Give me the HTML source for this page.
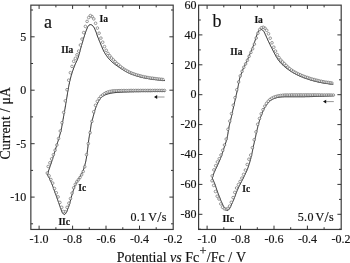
<!DOCTYPE html>
<html><head><meta charset="utf-8"><title>CV</title>
<style>
html,body{margin:0;padding:0;background:#fff;}
svg{display:block;font-family:"Liberation Serif",serif;}
text{stroke:#222;stroke-width:0.18px;}
.ax rect{fill:none;stroke:#3c3c3c;stroke-width:1.2;}
.ax path{stroke:#333;stroke-width:1;fill:none;}
.ln{fill:none;stroke:#1c1c1c;stroke-width:1.0;stroke-linejoin:round;}
.cc circle{fill:#fff;fill-opacity:0.65;stroke:#5a5a5a;stroke-width:0.6;}
.tk{font-size:12px;fill:#111;}
.big{font-size:18px;fill:#111;}
.bd text{font-size:9.5px;font-weight:bold;fill:#111;}
.al{font-size:14px;fill:#111;}
.ar path{stroke:#8a8a8a;stroke-width:0.9;fill:none;}
.ar .hd{fill:#111;stroke:none;}
</style></head><body>
<svg width="350" height="263" viewBox="0 0 350 263">
<rect width="350" height="263" fill="#fff"/>
<polyline class="ln" points="165.0,91.5 164.2,91.5 163.4,91.5 162.7,91.5 161.9,91.5 161.1,91.5 160.3,91.5 159.5,91.5 158.8,91.5 158.0,91.5 157.2,91.5 156.4,91.5 155.7,91.5 154.9,91.5 154.1,91.5 153.3,91.5 152.5,91.5 151.8,91.6 151.0,91.6 150.2,91.6 149.4,91.6 148.6,91.6 147.9,91.6 147.1,91.6 146.3,91.6 145.5,91.6 144.8,91.6 144.0,91.6 143.2,91.6 142.4,91.6 141.6,91.6 140.9,91.6 140.1,91.7 139.3,91.7 138.5,91.7 137.7,91.7 137.0,91.7 136.2,91.7 135.4,91.7 134.6,91.7 133.9,91.8 133.1,91.8 132.3,91.8 131.5,91.8 130.7,91.8 130.0,91.8 129.2,91.9 128.4,91.9 127.6,91.9 126.9,91.9 126.1,92.0 125.3,92.0 124.5,92.0 123.7,92.0 123.0,92.1 122.2,92.1 121.4,92.2 120.6,92.2 119.8,92.3 119.1,92.3 118.3,92.4 117.5,92.4 116.7,92.5 116.0,92.5 115.2,92.6 114.4,92.7 113.6,92.8 112.9,92.9 112.1,93.0 111.3,93.2 110.6,93.3 109.8,93.5 109.0,93.7 108.3,93.8 107.5,94.1 106.8,94.3 106.0,94.6 105.3,94.8 104.6,95.1 103.9,95.5 103.3,95.9 102.6,96.4 102.0,96.9 101.4,97.4 100.9,98.0 100.4,98.5 99.9,99.1 99.5,99.8 99.1,100.4 98.7,101.1 98.3,101.8 97.9,102.5 97.6,103.2 97.3,103.9 96.9,104.6 96.6,105.4 96.3,106.1 96.1,106.8 95.8,107.6 95.5,108.3 95.3,109.0 95.1,109.8 94.8,110.5 94.6,111.3 94.4,112.0 94.2,112.8 94.0,113.5 93.8,114.3 93.6,115.0 93.4,115.8 93.2,116.5 93.0,117.3 92.8,118.0 92.6,118.8 92.4,119.5 92.2,120.3 92.0,121.1 91.8,121.8 91.6,122.6 91.4,123.3 91.3,124.1 91.1,124.8 91.0,125.6 90.9,126.4 90.8,127.1 90.7,127.9 90.6,128.7 90.5,129.5 90.3,130.2 90.2,131.0 90.1,131.8 90.0,132.5 89.8,133.3 89.7,134.1 89.6,134.8 89.4,135.6 89.3,136.4 89.2,137.1 89.0,137.9 88.9,138.7 88.8,139.5 88.7,140.2 88.6,141.0 88.5,141.8 88.4,142.5 88.3,143.3 88.2,144.1 88.1,144.9 88.0,145.6 88.0,146.4 87.9,147.2 87.8,148.0 87.7,148.7 87.6,149.5 87.5,150.3 87.4,151.0 87.3,151.8 87.2,152.6 87.1,153.4 87.0,154.1 86.9,154.9 86.8,155.7 86.6,156.4 86.5,157.2 86.4,158.0 86.3,158.7 86.1,159.5 86.0,160.3 85.8,161.0 85.7,161.8 85.5,162.6 85.3,163.3 85.1,164.1 84.9,164.8 84.7,165.6 84.5,166.3 84.3,167.1 84.1,167.8 83.8,168.6 83.6,169.3 83.3,170.0 83.0,170.7 82.7,171.5 82.4,172.2 82.0,172.9 81.7,173.6 81.4,174.3 81.0,175.0 80.6,175.7 80.2,176.3 79.8,177.0 79.4,177.7 79.0,178.3 78.6,179.0 78.2,179.7 77.9,180.4 77.5,181.0 77.1,181.7 76.7,182.4 76.3,183.1 75.9,183.7 75.6,184.4 75.2,185.1 74.9,185.9 74.7,186.6 74.4,187.3 74.1,188.0 73.9,188.8 73.6,189.5 73.4,190.3 73.1,191.0 72.9,191.8 72.7,192.5 72.5,193.2 72.3,194.0 72.1,194.7 71.8,195.5 71.6,196.2 71.4,197.0 71.2,197.7 71.0,198.5 70.8,199.3 70.6,200.0 70.4,200.8 70.2,201.5 70.0,202.3 69.8,203.0 69.6,203.8 69.4,204.5 69.2,205.3 68.9,206.0 68.7,206.7 68.4,207.5 68.1,208.2 67.8,208.9 67.5,209.6 67.3,210.4 67.0,211.1 66.7,211.9 66.3,212.6 65.9,213.2 65.4,213.8 64.7,214.4 64.1,214.5 63.4,214.0 62.9,213.4 62.4,212.8 62.1,212.2 61.8,211.5 61.5,210.7 61.2,210.0 61.0,209.2 60.7,208.4 60.4,207.7 60.2,207.0 59.9,206.2 59.6,205.5 59.4,204.8 59.1,204.0 58.9,203.3 58.6,202.5 58.3,201.8 58.1,201.1 57.8,200.3 57.6,199.6 57.3,198.9 57.0,198.1 56.8,197.4 56.5,196.7 56.3,195.9 56.0,195.2 55.7,194.5 55.5,193.7 55.2,193.0 54.9,192.3 54.7,191.5 54.4,190.8 54.2,190.1 53.9,189.3 53.6,188.6 53.4,187.9 53.1,187.1 52.8,186.4 52.6,185.7 52.3,185.0 52.0,184.2 51.7,183.5 51.4,182.8 51.1,182.1 50.8,181.4 50.4,180.7 50.1,180.0 49.8,179.3 49.5,178.5 49.1,177.9 48.8,177.2 48.4,176.5 48.0,175.8 47.7,175.1 47.3,174.4 47.3,174.4 47.6,173.6 47.9,172.8 48.2,172.0 48.4,171.1 48.7,170.3 49.0,169.5 49.3,168.7 49.6,167.9 49.8,167.1 50.1,166.2 50.4,165.4 50.7,164.6 51.0,163.8 51.2,163.0 51.5,162.1 51.8,161.3 52.0,160.5 52.3,159.7 52.6,158.9 52.8,158.0 53.1,157.2 53.3,156.4 53.6,155.6 53.9,154.7 54.1,153.9 54.4,153.1 54.6,152.3 54.9,151.4 55.1,150.6 55.4,149.8 55.6,149.0 55.9,148.1 56.1,147.3 56.4,146.5 56.6,145.7 56.9,144.8 57.1,144.0 57.4,143.2 57.6,142.4 57.9,141.5 58.2,140.7 58.4,139.9 58.7,139.1 58.9,138.2 59.1,137.4 59.4,136.6 59.6,135.7 59.8,134.9 60.1,134.1 60.3,133.2 60.5,132.4 60.7,131.6 60.9,130.7 61.1,129.9 61.3,129.0 61.5,128.2 61.7,127.4 61.8,126.5 62.0,125.7 62.1,124.8 62.3,124.0 62.4,123.1 62.6,122.3 62.7,121.4 62.9,120.6 63.0,119.7 63.2,118.9 63.3,118.0 63.5,117.2 63.6,116.3 63.8,115.5 63.9,114.6 64.1,113.8 64.2,112.9 64.4,112.1 64.5,111.2 64.7,110.4 64.8,109.5 65.0,108.7 65.1,107.8 65.3,107.0 65.4,106.1 65.6,105.3 65.7,104.4 65.8,103.5 66.0,102.7 66.1,101.8 66.3,101.0 66.4,100.1 66.5,99.3 66.7,98.4 66.8,97.6 67.0,96.7 67.1,95.9 67.2,95.0 67.4,94.2 67.5,93.3 67.6,92.5 67.8,91.6 67.9,90.8 68.1,89.9 68.2,89.1 68.4,88.2 68.5,87.4 68.7,86.5 68.8,85.7 69.0,84.8 69.2,84.0 69.4,83.1 69.5,82.3 69.7,81.4 69.9,80.6 70.1,79.8 70.3,78.9 70.5,78.1 70.8,77.2 71.0,76.4 71.2,75.6 71.5,74.8 71.7,73.9 72.0,73.1 72.2,72.3 72.5,71.5 72.8,70.6 73.1,69.8 73.4,69.0 73.6,68.2 74.0,67.4 74.3,66.6 74.6,65.8 74.9,65.0 75.2,64.2 75.6,63.4 76.0,62.6 76.3,61.8 76.7,61.0 77.1,60.3 77.4,59.5 77.7,58.7 78.0,57.9 78.3,57.1 78.5,56.2 78.8,55.4 79.0,54.6 79.3,53.7 79.5,52.9 79.7,52.1 79.9,51.2 80.1,50.4 80.4,49.6 80.6,48.7 80.8,47.9 81.1,47.1 81.3,46.2 81.5,45.4 81.8,44.6 82.0,43.7 82.3,42.9 82.5,42.1 82.8,41.3 83.0,40.4 83.2,39.6 83.5,38.8 83.7,38.0 84.0,37.1 84.3,36.3 84.5,35.5 84.8,34.7 85.1,33.8 85.3,33.0 85.6,32.2 85.9,31.4 86.2,30.6 86.5,29.8 86.8,29.0 87.2,28.2 87.5,27.4 87.9,26.6 88.4,25.9 89.0,25.2 89.7,24.8 90.5,24.6 91.4,24.8 92.2,25.2 92.8,25.8 93.3,26.5 93.8,27.2 94.3,27.9 94.6,28.7 95.0,29.5 95.3,30.3 95.7,31.1 96.0,31.9 96.3,32.7 96.5,33.5 96.8,34.3 97.1,35.1 97.4,36.0 97.7,36.8 98.0,37.6 98.4,38.4 98.7,39.2 99.0,40.0 99.3,40.8 99.7,41.6 100.0,42.4 100.3,43.2 100.6,44.0 101.0,44.8 101.3,45.6 101.6,46.4 102.0,47.2 102.3,48.0 102.6,48.8 103.0,49.5 103.3,50.3 103.7,51.1 104.1,51.9 104.6,52.6 105.0,53.4 105.4,54.1 105.9,54.8 106.4,55.5 106.9,56.2 107.4,56.9 107.9,57.6 108.5,58.3 109.0,59.0 109.6,59.6 110.2,60.2 110.8,60.8 111.4,61.4 112.1,62.0 112.7,62.6 113.4,63.1 114.1,63.7 114.8,64.2 115.4,64.7 116.1,65.2 116.8,65.7 117.6,66.2 118.3,66.7 119.0,67.2 119.7,67.7 120.4,68.1 121.2,68.6 121.9,69.1 122.6,69.5 123.4,70.0 124.1,70.4 124.9,70.9 125.6,71.3 126.4,71.7 127.1,72.1 127.9,72.5 128.7,72.9 129.5,73.2 130.2,73.6 131.0,73.9 131.8,74.2 132.7,74.5 133.5,74.8 134.3,75.1 135.1,75.4 135.9,75.7 136.7,75.9 137.6,76.2 138.4,76.4 139.2,76.6 140.1,76.9 140.9,77.1 141.7,77.3 142.6,77.5 143.4,77.7 144.3,77.9 145.1,78.0 146.0,78.2 146.8,78.3 147.7,78.5 148.5,78.6 149.4,78.8 150.2,78.9 151.1,79.1 151.9,79.2 152.8,79.3 153.6,79.4 154.5,79.5 155.4,79.6 156.2,79.7 157.1,79.8 157.9,79.9 158.8,80.0 159.6,80.1 160.5,80.2 161.4,80.3 162.2,80.4 163.1,80.5 163.9,80.5 164.8,80.6"/><g class="cc"><circle cx="164.5" cy="90.5" r="1.32"/><circle cx="162.8" cy="90.5" r="1.32"/><circle cx="161.1" cy="90.5" r="1.32"/><circle cx="159.3" cy="90.5" r="1.32"/><circle cx="157.6" cy="90.5" r="1.32"/><circle cx="155.9" cy="90.5" r="1.32"/><circle cx="154.2" cy="90.5" r="1.32"/><circle cx="152.5" cy="90.5" r="1.32"/><circle cx="150.7" cy="90.5" r="1.32"/><circle cx="149.0" cy="90.5" r="1.32"/><circle cx="147.3" cy="90.5" r="1.32"/><circle cx="145.6" cy="90.5" r="1.32"/><circle cx="143.9" cy="90.5" r="1.32"/><circle cx="142.1" cy="90.5" r="1.32"/><circle cx="140.4" cy="90.5" r="1.32"/><circle cx="138.7" cy="90.5" r="1.32"/><circle cx="137.0" cy="90.5" r="1.32"/><circle cx="135.3" cy="90.5" r="1.32"/><circle cx="133.5" cy="90.5" r="1.32"/><circle cx="131.8" cy="90.5" r="1.32"/><circle cx="130.1" cy="90.5" r="1.32"/><circle cx="128.4" cy="90.6" r="1.32"/><circle cx="126.7" cy="90.6" r="1.32"/><circle cx="124.9" cy="90.6" r="1.32"/><circle cx="123.2" cy="90.6" r="1.32"/><circle cx="121.5" cy="90.6" r="1.32"/><circle cx="119.8" cy="90.7" r="1.32"/><circle cx="118.1" cy="90.7" r="1.32"/><circle cx="116.3" cy="90.8" r="1.32"/><circle cx="114.6" cy="90.8" r="1.32"/><circle cx="112.9" cy="90.9" r="1.32"/><circle cx="111.2" cy="91.2" r="1.32"/><circle cx="109.5" cy="91.6" r="1.32"/><circle cx="107.7" cy="92.1" r="1.32"/><circle cx="106.0" cy="92.8" r="1.32"/><circle cx="104.3" cy="93.8" r="1.32"/><circle cx="102.6" cy="95.1" r="1.32"/><circle cx="100.9" cy="96.4" r="1.32"/><circle cx="99.1" cy="98.6" r="1.32"/><circle cx="97.3" cy="101.3" r="1.32"/><circle cx="95.5" cy="105.3" r="1.32"/><circle cx="93.7" cy="111.8" r="1.32"/><circle cx="91.9" cy="121.4" r="1.32"/><circle cx="90.1" cy="132.7" r="1.32"/><circle cx="88.3" cy="143.6" r="1.32"/><circle cx="86.5" cy="154.7" r="1.32"/><circle cx="84.7" cy="166.8" r="1.32"/><circle cx="83.2" cy="171.5" r="1.32"/><circle cx="81.6" cy="174.8" r="1.32"/><circle cx="80.0" cy="177.5" r="1.32"/><circle cx="78.4" cy="179.7" r="1.32"/><circle cx="76.8" cy="181.8" r="1.32"/><circle cx="75.3" cy="184.4" r="1.32"/><circle cx="73.7" cy="187.8" r="1.32"/><circle cx="72.1" cy="193.1" r="1.32"/><circle cx="70.5" cy="198.6" r="1.32"/><circle cx="68.9" cy="203.2" r="1.32"/><circle cx="67.1" cy="207.3" r="1.32"/><circle cx="65.3" cy="211.7" r="1.32"/><circle cx="63.5" cy="211.6" r="1.32"/><circle cx="61.7" cy="207.3" r="1.32"/><circle cx="59.9" cy="202.4" r="1.32"/><circle cx="58.1" cy="196.9" r="1.32"/><circle cx="56.3" cy="192.8" r="1.32"/><circle cx="54.5" cy="188.5" r="1.32"/><circle cx="52.7" cy="183.1" r="1.32"/><circle cx="50.9" cy="179.5" r="1.32"/><circle cx="49.1" cy="175.8" r="1.32"/><circle cx="47.3" cy="173.0" r="1.32"/><circle cx="162.9" cy="79.5" r="1.32"/><circle cx="161.1" cy="79.3" r="1.32"/><circle cx="159.3" cy="79.1" r="1.32"/><circle cx="157.6" cy="78.9" r="1.32"/><circle cx="155.8" cy="78.7" r="1.32"/><circle cx="154.0" cy="78.5" r="1.32"/><circle cx="152.3" cy="78.2" r="1.32"/><circle cx="150.5" cy="78.0" r="1.32"/><circle cx="148.7" cy="77.7" r="1.32"/><circle cx="146.9" cy="77.4" r="1.32"/><circle cx="145.2" cy="77.0" r="1.32"/><circle cx="143.4" cy="76.7" r="1.32"/><circle cx="141.6" cy="76.3" r="1.32"/><circle cx="139.9" cy="75.8" r="1.32"/><circle cx="138.1" cy="75.3" r="1.32"/><circle cx="136.3" cy="74.8" r="1.32"/><circle cx="134.5" cy="74.2" r="1.32"/><circle cx="132.8" cy="73.6" r="1.32"/><circle cx="131.0" cy="72.9" r="1.32"/><circle cx="129.2" cy="72.1" r="1.32"/><circle cx="127.5" cy="71.2" r="1.32"/><circle cx="125.7" cy="70.2" r="1.32"/><circle cx="123.9" cy="69.1" r="1.32"/><circle cx="122.2" cy="67.9" r="1.32"/><circle cx="120.4" cy="66.5" r="1.32"/><circle cx="118.6" cy="64.8" r="1.32"/><circle cx="116.8" cy="63.4" r="1.32"/><circle cx="115.1" cy="61.7" r="1.32"/><circle cx="113.3" cy="59.9" r="1.32"/><circle cx="111.5" cy="58.0" r="1.32"/><circle cx="109.8" cy="55.8" r="1.32"/><circle cx="108.0" cy="53.4" r="1.32"/><circle cx="106.2" cy="50.3" r="1.32"/><circle cx="104.5" cy="46.6" r="1.32"/><circle cx="102.7" cy="42.2" r="1.32"/><circle cx="100.9" cy="38.1" r="1.32"/><circle cx="99.1" cy="33.2" r="1.32"/><circle cx="97.4" cy="28.1" r="1.32"/><circle cx="95.6" cy="23.3" r="1.32"/><circle cx="93.8" cy="18.9" r="1.32"/><circle cx="92.1" cy="16.6" r="1.32"/><circle cx="90.4" cy="15.6" r="1.32"/><circle cx="88.7" cy="17.6" r="1.32"/><circle cx="87.1" cy="21.4" r="1.32"/><circle cx="85.4" cy="26.4" r="1.32"/><circle cx="83.7" cy="32.6" r="1.32"/><circle cx="82.0" cy="39.1" r="1.32"/><circle cx="80.4" cy="45.0" r="1.32"/><circle cx="78.7" cy="51.1" r="1.32"/><circle cx="77.0" cy="54.8" r="1.32"/><circle cx="75.4" cy="58.3" r="1.32"/><circle cx="73.7" cy="61.3" r="1.32"/><circle cx="72.0" cy="66.4" r="1.32"/><circle cx="70.4" cy="72.7" r="1.32"/><circle cx="68.7" cy="80.2" r="1.32"/><circle cx="67.0" cy="89.7" r="1.32"/><circle cx="65.3" cy="100.9" r="1.32"/><circle cx="63.7" cy="112.4" r="1.32"/><circle cx="62.0" cy="122.7" r="1.32"/><circle cx="60.3" cy="131.0" r="1.32"/><circle cx="58.6" cy="138.5" r="1.32"/><circle cx="56.9" cy="145.0" r="1.32"/><circle cx="55.1" cy="150.2" r="1.32"/><circle cx="53.4" cy="154.7" r="1.32"/><circle cx="51.6" cy="158.9" r="1.32"/><circle cx="49.9" cy="162.8" r="1.32"/><circle cx="48.2" cy="166.5" r="1.32"/></g>
<polyline class="ln" points="333.5,95.7 332.8,95.7 332.0,95.8 331.3,95.8 330.6,95.9 329.8,95.9 329.1,95.9 328.4,96.0 327.6,96.0 326.9,96.0 326.2,96.1 325.4,96.1 324.7,96.1 324.0,96.2 323.2,96.2 322.5,96.2 321.8,96.2 321.0,96.3 320.3,96.3 319.6,96.3 318.8,96.3 318.1,96.4 317.4,96.4 316.6,96.4 315.9,96.4 315.2,96.5 314.4,96.5 313.7,96.5 313.0,96.5 312.2,96.6 311.5,96.6 310.8,96.6 310.0,96.6 309.3,96.7 308.6,96.7 307.8,96.7 307.1,96.7 306.4,96.7 305.6,96.7 304.9,96.8 304.2,96.8 303.4,96.8 302.7,96.8 302.0,96.8 301.2,96.8 300.5,96.8 299.8,96.8 299.0,96.8 298.3,96.8 297.6,96.8 296.8,96.8 296.1,96.8 295.4,96.8 294.6,96.8 293.9,96.8 293.2,96.8 292.4,96.8 291.7,96.8 291.0,96.8 290.2,96.8 289.5,96.8 288.8,96.8 288.0,96.8 287.3,96.8 286.6,96.8 285.8,96.8 285.1,96.8 284.4,96.8 283.6,96.9 282.9,96.9 282.2,96.9 281.4,97.0 280.7,97.0 280.0,97.1 279.2,97.2 278.5,97.3 277.8,97.4 277.1,97.6 276.4,97.8 275.7,98.0 275.0,98.2 274.3,98.5 273.6,98.7 272.9,99.1 272.3,99.4 271.6,99.8 271.0,100.2 270.4,100.6 269.9,101.1 269.3,101.6 268.8,102.1 268.3,102.7 267.8,103.2 267.3,103.8 266.9,104.3 266.4,104.9 266.0,105.5 265.6,106.1 265.2,106.7 264.8,107.3 264.4,108.0 264.1,108.6 263.8,109.3 263.5,110.0 263.2,110.6 262.9,111.3 262.6,112.0 262.3,112.7 262.1,113.4 261.8,114.0 261.5,114.7 261.3,115.4 261.0,116.1 260.8,116.8 260.5,117.5 260.3,118.2 260.1,118.9 259.8,119.6 259.6,120.3 259.4,121.0 259.2,121.7 259.0,122.4 258.8,123.1 258.6,123.8 258.4,124.5 258.2,125.2 258.0,125.9 257.8,126.6 257.7,127.3 257.5,128.1 257.3,128.8 257.2,129.5 257.0,130.2 256.8,130.9 256.7,131.6 256.5,132.4 256.4,133.1 256.2,133.8 256.0,134.5 255.9,135.2 255.7,135.9 255.6,136.7 255.4,137.4 255.2,138.1 255.1,138.8 254.9,139.5 254.7,140.2 254.6,140.9 254.4,141.7 254.3,142.4 254.1,143.1 254.0,143.8 253.8,144.5 253.6,145.2 253.5,146.0 253.3,146.7 253.2,147.4 253.0,148.1 252.9,148.8 252.7,149.6 252.6,150.3 252.5,151.0 252.3,151.7 252.2,152.4 252.0,153.2 251.9,153.9 251.7,154.6 251.6,155.3 251.4,156.0 251.2,156.7 251.0,157.4 250.9,158.1 250.7,158.9 250.5,159.6 250.3,160.3 250.1,161.0 249.9,161.7 249.7,162.4 249.5,163.1 249.2,163.8 249.0,164.5 248.8,165.2 248.6,165.9 248.4,166.6 248.1,167.3 247.9,168.0 247.6,168.7 247.3,169.3 247.0,170.0 246.8,170.7 246.5,171.4 246.2,172.0 245.9,172.7 245.5,173.4 245.2,174.0 244.9,174.7 244.6,175.4 244.3,176.0 244.0,176.7 243.7,177.3 243.3,178.0 243.0,178.7 242.7,179.3 242.3,180.0 242.0,180.6 241.7,181.3 241.3,181.9 241.0,182.6 240.7,183.2 240.3,183.9 240.0,184.5 239.7,185.2 239.3,185.9 239.0,186.5 238.7,187.2 238.4,187.8 238.1,188.5 237.8,189.2 237.5,189.8 237.2,190.5 236.9,191.2 236.7,191.9 236.4,192.6 236.1,193.2 235.9,193.9 235.6,194.6 235.4,195.3 235.1,196.0 234.9,196.7 234.6,197.4 234.3,198.1 234.1,198.7 233.8,199.4 233.5,200.1 233.2,200.8 232.9,201.4 232.6,202.1 232.3,202.8 232.0,203.5 231.7,204.1 231.4,204.8 231.1,205.5 230.8,206.1 230.5,206.8 230.2,207.5 229.8,208.1 229.5,208.7 229.0,209.3 228.4,210.0 227.8,210.4 227.2,210.3 226.6,210.0 225.9,209.5 225.4,209.0 224.9,208.5 224.5,207.9 224.1,207.2 223.7,206.6 223.4,205.9 223.0,205.3 222.7,204.6 222.4,204.0 222.1,203.3 221.8,202.6 221.5,201.9 221.2,201.3 220.9,200.6 220.7,199.9 220.4,199.2 220.1,198.5 219.9,197.8 219.6,197.2 219.3,196.5 219.0,195.8 218.8,195.1 218.5,194.4 218.2,193.7 218.0,193.1 217.7,192.4 217.5,191.7 217.2,191.0 217.0,190.3 216.7,189.6 216.5,188.9 216.3,188.2 216.0,187.5 215.8,186.8 215.6,186.1 215.3,185.4 215.1,184.7 214.8,184.0 214.6,183.4 214.3,182.7 214.0,182.0 213.7,181.3 213.5,180.7 213.1,180.0 212.8,179.3 212.5,178.7 212.2,178.0 212.2,178.0 212.5,177.2 212.7,176.4 213.0,175.6 213.3,174.8 213.6,174.0 213.9,173.2 214.2,172.4 214.6,171.6 214.9,170.8 215.3,170.0 215.6,169.3 216.0,168.5 216.3,167.7 216.7,167.0 217.1,166.2 217.4,165.4 217.8,164.6 218.1,163.9 218.5,163.1 218.8,162.3 219.2,161.5 219.5,160.7 219.8,159.9 220.2,159.1 220.5,158.4 220.8,157.6 221.1,156.8 221.4,156.0 221.7,155.2 221.9,154.4 222.2,153.6 222.5,152.7 222.8,151.9 223.0,151.1 223.3,150.3 223.6,149.5 223.8,148.7 224.1,147.9 224.3,147.1 224.6,146.2 224.9,145.4 225.1,144.6 225.4,143.8 225.7,143.0 225.9,142.2 226.2,141.4 226.4,140.5 226.6,139.7 226.8,138.9 227.1,138.1 227.2,137.2 227.4,136.4 227.6,135.6 227.7,134.7 227.9,133.9 228.0,133.1 228.1,132.2 228.3,131.4 228.4,130.5 228.5,129.7 228.7,128.8 228.8,128.0 229.0,127.2 229.1,126.3 229.3,125.5 229.5,124.7 229.7,123.8 229.9,123.0 230.1,122.2 230.3,121.3 230.5,120.5 230.7,119.7 230.9,118.8 231.1,118.0 231.3,117.2 231.5,116.4 231.7,115.5 231.9,114.7 232.0,113.9 232.2,113.0 232.4,112.2 232.6,111.4 232.7,110.5 232.9,109.7 233.1,108.9 233.3,108.0 233.5,107.2 233.6,106.3 233.8,105.5 234.0,104.7 234.2,103.9 234.4,103.0 234.6,102.2 234.8,101.4 235.0,100.5 235.2,99.7 235.4,98.9 235.6,98.0 235.8,97.2 236.0,96.4 236.1,95.5 236.3,94.7 236.5,93.9 236.7,93.1 236.9,92.2 237.1,91.4 237.3,90.6 237.4,89.7 237.6,88.9 237.8,88.0 238.0,87.2 238.1,86.4 238.3,85.5 238.4,84.7 238.6,83.8 238.7,83.0 238.9,82.2 239.0,81.3 239.2,80.5 239.4,79.7 239.6,78.8 239.8,78.0 240.1,77.2 240.3,76.4 240.6,75.6 240.9,74.8 241.2,74.0 241.5,73.2 241.8,72.4 242.1,71.6 242.4,70.8 242.7,70.0 243.0,69.2 243.4,68.4 243.7,67.7 244.1,66.9 244.5,66.1 244.9,65.3 245.2,64.6 245.6,63.8 246.0,63.0 246.3,62.3 246.7,61.5 247.0,60.7 247.4,59.9 247.7,59.1 248.1,58.4 248.4,57.6 248.7,56.8 249.1,56.0 249.4,55.2 249.7,54.4 250.1,53.7 250.4,52.9 250.7,52.1 251.1,51.3 251.4,50.5 251.7,49.7 252.1,48.9 252.4,48.2 252.7,47.4 253.0,46.6 253.3,45.8 253.6,45.0 253.9,44.2 254.2,43.4 254.4,42.6 254.7,41.7 255.0,40.9 255.2,40.1 255.5,39.3 255.8,38.5 256.0,37.7 256.3,36.9 256.5,36.0 256.8,35.2 257.1,34.4 257.4,33.6 257.7,32.8 258.1,32.0 258.5,31.3 259.0,30.6 259.6,30.0 260.3,29.5 261.1,29.3 261.9,29.6 262.6,30.1 263.2,30.7 263.8,31.4 264.2,32.1 264.6,32.9 265.0,33.7 265.3,34.5 265.7,35.2 266.0,36.0 266.4,36.8 266.7,37.6 267.1,38.3 267.4,39.1 267.8,39.9 268.1,40.7 268.5,41.5 268.9,42.2 269.2,43.0 269.6,43.8 270.0,44.5 270.3,45.3 270.7,46.1 271.1,46.8 271.5,47.6 271.9,48.3 272.3,49.1 272.6,49.9 273.0,50.6 273.4,51.4 273.8,52.1 274.2,52.9 274.6,53.7 275.0,54.4 275.4,55.2 275.8,55.9 276.2,56.7 276.7,57.4 277.1,58.1 277.6,58.8 278.0,59.6 278.5,60.2 279.0,60.9 279.6,61.6 280.1,62.3 280.7,62.9 281.3,63.5 281.9,64.1 282.4,64.7 283.1,65.3 283.7,65.9 284.4,66.5 285.0,67.0 285.7,67.5 286.3,68.1 287.0,68.6 287.7,69.1 288.4,69.6 289.1,70.1 289.8,70.6 290.5,71.1 291.2,71.5 291.9,72.0 292.7,72.4 293.4,72.9 294.1,73.3 294.9,73.7 295.6,74.1 296.4,74.5 297.2,74.9 297.9,75.2 298.7,75.6 299.5,76.0 300.3,76.3 301.1,76.6 301.8,76.9 302.6,77.2 303.4,77.6 304.2,77.9 305.0,78.2 305.8,78.4 306.6,78.7 307.5,79.0 308.3,79.3 309.1,79.5 309.9,79.8 310.7,80.1 311.5,80.3 312.3,80.5 313.2,80.8 314.0,81.0 314.8,81.2 315.6,81.4 316.5,81.6 317.3,81.8 318.1,82.0 319.0,82.2 319.8,82.4 320.6,82.5 321.5,82.7 322.3,82.8 323.1,83.0 324.0,83.1 324.8,83.3 325.7,83.4 326.5,83.5 327.4,83.6 328.2,83.7 329.0,83.9 329.9,84.0 330.7,84.1 331.6,84.1 332.4,84.2 333.3,84.3"/><g class="cc"><circle cx="333.4" cy="95.1" r="1.32"/><circle cx="331.6" cy="95.1" r="1.32"/><circle cx="329.9" cy="95.0" r="1.32"/><circle cx="328.1" cy="95.0" r="1.32"/><circle cx="326.4" cy="95.0" r="1.32"/><circle cx="324.6" cy="95.0" r="1.32"/><circle cx="322.8" cy="95.0" r="1.32"/><circle cx="321.1" cy="95.0" r="1.32"/><circle cx="319.3" cy="94.9" r="1.32"/><circle cx="317.6" cy="94.9" r="1.32"/><circle cx="315.8" cy="94.9" r="1.32"/><circle cx="314.0" cy="94.9" r="1.32"/><circle cx="312.3" cy="94.9" r="1.32"/><circle cx="310.5" cy="94.9" r="1.32"/><circle cx="308.8" cy="94.9" r="1.32"/><circle cx="307.0" cy="94.9" r="1.32"/><circle cx="305.2" cy="94.9" r="1.32"/><circle cx="303.5" cy="94.9" r="1.32"/><circle cx="301.7" cy="94.9" r="1.32"/><circle cx="300.0" cy="94.9" r="1.32"/><circle cx="298.2" cy="94.9" r="1.32"/><circle cx="296.4" cy="94.9" r="1.32"/><circle cx="294.7" cy="94.9" r="1.32"/><circle cx="292.9" cy="94.9" r="1.32"/><circle cx="291.2" cy="94.9" r="1.32"/><circle cx="289.4" cy="95.0" r="1.32"/><circle cx="287.6" cy="95.0" r="1.32"/><circle cx="285.9" cy="95.0" r="1.32"/><circle cx="284.1" cy="95.1" r="1.32"/><circle cx="282.4" cy="95.3" r="1.32"/><circle cx="280.6" cy="95.5" r="1.32"/><circle cx="278.8" cy="95.8" r="1.32"/><circle cx="277.1" cy="96.2" r="1.32"/><circle cx="275.3" cy="96.7" r="1.32"/><circle cx="273.6" cy="97.4" r="1.32"/><circle cx="271.8" cy="98.3" r="1.32"/><circle cx="270.0" cy="99.5" r="1.32"/><circle cx="268.3" cy="101.2" r="1.32"/><circle cx="266.5" cy="103.4" r="1.32"/><circle cx="264.8" cy="106.2" r="1.32"/><circle cx="263.0" cy="109.7" r="1.32"/><circle cx="261.2" cy="113.8" r="1.32"/><circle cx="259.5" cy="118.5" r="1.32"/><circle cx="257.7" cy="124.3" r="1.32"/><circle cx="256.0" cy="131.9" r="1.32"/><circle cx="254.2" cy="139.8" r="1.32"/><circle cx="252.4" cy="147.7" r="1.32"/><circle cx="250.7" cy="155.1" r="1.32"/><circle cx="248.9" cy="159.2" r="1.32"/><circle cx="247.2" cy="164.5" r="1.32"/><circle cx="245.4" cy="170.1" r="1.32"/><circle cx="243.6" cy="174.4" r="1.32"/><circle cx="241.9" cy="178.1" r="1.32"/><circle cx="240.1" cy="181.5" r="1.32"/><circle cx="238.4" cy="184.6" r="1.32"/><circle cx="236.6" cy="188.0" r="1.32"/><circle cx="234.8" cy="192.4" r="1.32"/><circle cx="233.1" cy="197.6" r="1.32"/><circle cx="231.3" cy="202.3" r="1.32"/><circle cx="229.6" cy="206.1" r="1.32"/><circle cx="227.8" cy="208.6" r="1.32"/><circle cx="226.0" cy="209.2" r="1.32"/><circle cx="224.3" cy="208.7" r="1.32"/><circle cx="222.5" cy="207.2" r="1.32"/><circle cx="220.8" cy="203.9" r="1.32"/><circle cx="219.0" cy="199.0" r="1.32"/><circle cx="217.2" cy="196.2" r="1.32"/><circle cx="215.5" cy="191.5" r="1.32"/><circle cx="213.7" cy="185.4" r="1.32"/><circle cx="212.0" cy="180.8" r="1.32"/><circle cx="331.8" cy="83.0" r="1.32"/><circle cx="330.1" cy="82.8" r="1.32"/><circle cx="328.3" cy="82.5" r="1.32"/><circle cx="326.6" cy="82.3" r="1.32"/><circle cx="324.8" cy="82.0" r="1.32"/><circle cx="323.0" cy="81.7" r="1.32"/><circle cx="321.3" cy="81.3" r="1.32"/><circle cx="319.5" cy="81.0" r="1.32"/><circle cx="317.8" cy="80.5" r="1.32"/><circle cx="316.0" cy="80.1" r="1.32"/><circle cx="314.2" cy="79.6" r="1.32"/><circle cx="312.5" cy="79.2" r="1.32"/><circle cx="310.7" cy="78.7" r="1.32"/><circle cx="309.0" cy="78.1" r="1.32"/><circle cx="307.2" cy="77.5" r="1.32"/><circle cx="305.4" cy="76.9" r="1.32"/><circle cx="303.7" cy="76.3" r="1.32"/><circle cx="301.9" cy="75.6" r="1.32"/><circle cx="300.2" cy="74.8" r="1.32"/><circle cx="298.4" cy="74.0" r="1.32"/><circle cx="296.6" cy="73.1" r="1.32"/><circle cx="294.9" cy="72.2" r="1.32"/><circle cx="293.1" cy="71.2" r="1.32"/><circle cx="291.4" cy="70.0" r="1.32"/><circle cx="289.6" cy="68.7" r="1.32"/><circle cx="287.8" cy="67.0" r="1.32"/><circle cx="286.1" cy="65.4" r="1.32"/><circle cx="284.3" cy="63.7" r="1.32"/><circle cx="282.6" cy="62.0" r="1.32"/><circle cx="280.8" cy="60.0" r="1.32"/><circle cx="279.0" cy="57.6" r="1.32"/><circle cx="277.3" cy="54.7" r="1.32"/><circle cx="275.5" cy="51.1" r="1.32"/><circle cx="273.8" cy="47.2" r="1.32"/><circle cx="272.0" cy="42.8" r="1.32"/><circle cx="270.2" cy="38.2" r="1.32"/><circle cx="268.5" cy="33.8" r="1.32"/><circle cx="266.7" cy="30.3" r="1.32"/><circle cx="265.0" cy="28.2" r="1.32"/><circle cx="263.2" cy="27.3" r="1.32"/><circle cx="261.4" cy="27.8" r="1.32"/><circle cx="259.7" cy="29.6" r="1.32"/><circle cx="257.9" cy="33.2" r="1.32"/><circle cx="256.2" cy="38.0" r="1.32"/><circle cx="254.4" cy="44.1" r="1.32"/><circle cx="252.6" cy="48.8" r="1.32"/><circle cx="250.9" cy="52.4" r="1.32"/><circle cx="249.1" cy="56.3" r="1.32"/><circle cx="247.4" cy="60.3" r="1.32"/><circle cx="245.6" cy="63.9" r="1.32"/><circle cx="243.8" cy="67.3" r="1.32"/><circle cx="242.1" cy="71.3" r="1.32"/><circle cx="240.3" cy="75.9" r="1.32"/><circle cx="238.6" cy="82.0" r="1.32"/><circle cx="236.8" cy="89.8" r="1.32"/><circle cx="235.0" cy="97.7" r="1.32"/><circle cx="233.3" cy="105.2" r="1.32"/><circle cx="231.5" cy="113.6" r="1.32"/><circle cx="229.8" cy="121.1" r="1.32"/><circle cx="228.0" cy="129.3" r="1.32"/><circle cx="226.2" cy="139.1" r="1.32"/><circle cx="224.5" cy="145.0" r="1.32"/><circle cx="222.7" cy="150.3" r="1.32"/><circle cx="221.0" cy="155.0" r="1.32"/><circle cx="219.2" cy="158.8" r="1.32"/><circle cx="217.4" cy="161.9" r="1.32"/><circle cx="215.7" cy="165.7" r="1.32"/><circle cx="213.9" cy="169.9" r="1.32"/><circle cx="212.2" cy="175.9" r="1.32"/></g>
<g class="ax"><rect x="30.85" y="5.15" width="142.35" height="224.29999999999998"/><rect x="198.6" y="5.15" width="142.6" height="224.29999999999998"/><path d="M39.1 229.45v-3.8M39.1 5.15v3.8"/><path d="M72.6 229.45v-3.8M72.6 5.15v3.8"/><path d="M106.0 229.45v-3.8M106.0 5.15v3.8"/><path d="M139.5 229.45v-3.8M139.5 5.15v3.8"/><path d="M55.9 229.45v-2.2M55.9 5.15v2.2"/><path d="M89.3 229.45v-2.2M89.3 5.15v2.2"/><path d="M122.8 229.45v-2.2M122.8 5.15v2.2"/><path d="M156.2 229.45v-2.2M156.2 5.15v2.2"/><path d="M207.1 229.45v-3.8M207.1 5.15v3.8"/><path d="M240.5 229.45v-3.8M240.5 5.15v3.8"/><path d="M274.0 229.45v-3.8M274.0 5.15v3.8"/><path d="M307.4 229.45v-3.8M307.4 5.15v3.8"/><path d="M223.8 229.45v-2.2M223.8 5.15v2.2"/><path d="M257.3 229.45v-2.2M257.3 5.15v2.2"/><path d="M290.7 229.45v-2.2M290.7 5.15v2.2"/><path d="M324.1 229.45v-2.2M324.1 5.15v2.2"/><path d="M30.85 36.8h3.8M173.2 36.8h-3.8"/><path d="M30.85 90.2h3.8M173.2 90.2h-3.8"/><path d="M30.85 143.7h3.8M173.2 143.7h-3.8"/><path d="M30.85 197.1h3.8M173.2 197.1h-3.8"/><path d="M30.85 10.0h2.2M173.2 10.0h-2.2"/><path d="M30.85 63.5h2.2M173.2 63.5h-2.2"/><path d="M30.85 116.9h2.2M173.2 116.9h-2.2"/><path d="M30.85 170.4h2.2M173.2 170.4h-2.2"/><path d="M30.85 223.8h2.2M173.2 223.8h-2.2"/><path d="M198.6 34.9h3.8M341.2 34.9h-3.8"/><path d="M198.6 64.8h3.8M341.2 64.8h-3.8"/><path d="M198.6 94.7h3.8M341.2 94.7h-3.8"/><path d="M198.6 124.6h3.8M341.2 124.6h-3.8"/><path d="M198.6 154.5h3.8M341.2 154.5h-3.8"/><path d="M198.6 184.4h3.8M341.2 184.4h-3.8"/><path d="M198.6 214.3h3.8M341.2 214.3h-3.8"/><path d="M198.6 20.0h2.2M341.2 20.0h-2.2"/><path d="M198.6 49.9h2.2M341.2 49.9h-2.2"/><path d="M198.6 79.8h2.2M341.2 79.8h-2.2"/><path d="M198.6 109.7h2.2M341.2 109.7h-2.2"/><path d="M198.6 139.6h2.2M341.2 139.6h-2.2"/><path d="M198.6 169.4h2.2M341.2 169.4h-2.2"/><path d="M198.6 199.4h2.2M341.2 199.4h-2.2"/><path d="M198.6 229.2h2.2M341.2 229.2h-2.2"/></g>
<g class="tk" text-anchor="middle"><text x="39.1" y="243.0">-1.0</text><text x="207.1" y="243.0">-1.0</text><text x="72.6" y="243.0">-0.8</text><text x="240.5" y="243.0">-0.8</text><text x="106.0" y="243.0">-0.6</text><text x="274.0" y="243.0">-0.6</text><text x="139.5" y="243.0">-0.4</text><text x="307.4" y="243.0">-0.4</text><text x="172.9" y="243.0">-0.2</text><text x="340.9" y="243.0">-0.2</text></g><g class="tk" text-anchor="end"><text x="26.3" y="40.6">5</text><text x="26.3" y="94.0">0</text><text x="26.3" y="147.5">-5</text><text x="26.3" y="200.9">-10</text><text x="196.4" y="8.7">60</text><text x="196.4" y="38.6">40</text><text x="196.4" y="68.5">20</text><text x="196.4" y="98.4">0</text><text x="196.4" y="128.3">-20</text><text x="196.4" y="158.2">-40</text><text x="196.4" y="188.1">-60</text><text x="196.4" y="218.0">-80</text></g>

<text class="big" x="44" y="27.6">a</text>
<text class="big" x="212.5" y="27.4">b</text>
<g class="bd">
<text x="99.6" y="21.7">Ia</text>
<text x="61.2" y="52.7">IIa</text>
<text x="78.2" y="190.9">Ic</text>
<text x="58.4" y="225">IIc</text>
<text x="254.4" y="22.5">Ia</text>
<text x="230.3" y="54.6">IIa</text>
<text x="242.3" y="191.5">Ic</text>
<text x="222.4" y="221.5">IIc</text>
</g>
<text class="tk" x="130.5" y="220.8" letter-spacing="0.3" word-spacing="-1.3">0.1 V<tspan font-size="15" dy="1.3">/</tspan><tspan dy="-1.3">s</tspan></text>
<text class="tk" x="297.8" y="220.8" letter-spacing="0.3" word-spacing="-1.3">5.0 V<tspan font-size="15" dy="1.3">/</tspan><tspan dy="-1.3">s</tspan></text>
<text class="al" x="116.8" y="261.5">Potential <tspan font-style="italic">vs</tspan> Fc<tspan dy="-6.8" dx="0.3" font-size="12.5">+</tspan><tspan dy="6.8" dx="0.2">/Fc / </tspan><tspan dx="0.6">V</tspan></text>
<text class="al" text-anchor="middle" style="font-size:13.6px;letter-spacing:0.3px" transform="translate(10.2,123.2) rotate(-90)">Current / μA</text>


<g class="ar">
<path d="M157 97H164.5" /><path class="hd" d="M154 97l3.2-1.9v3.8z"/>
<path d="M326 101.6H333.8" /><path class="hd" d="M323 101.6l3.2-1.9v3.8z"/>
</g>

</svg>
</body></html>
